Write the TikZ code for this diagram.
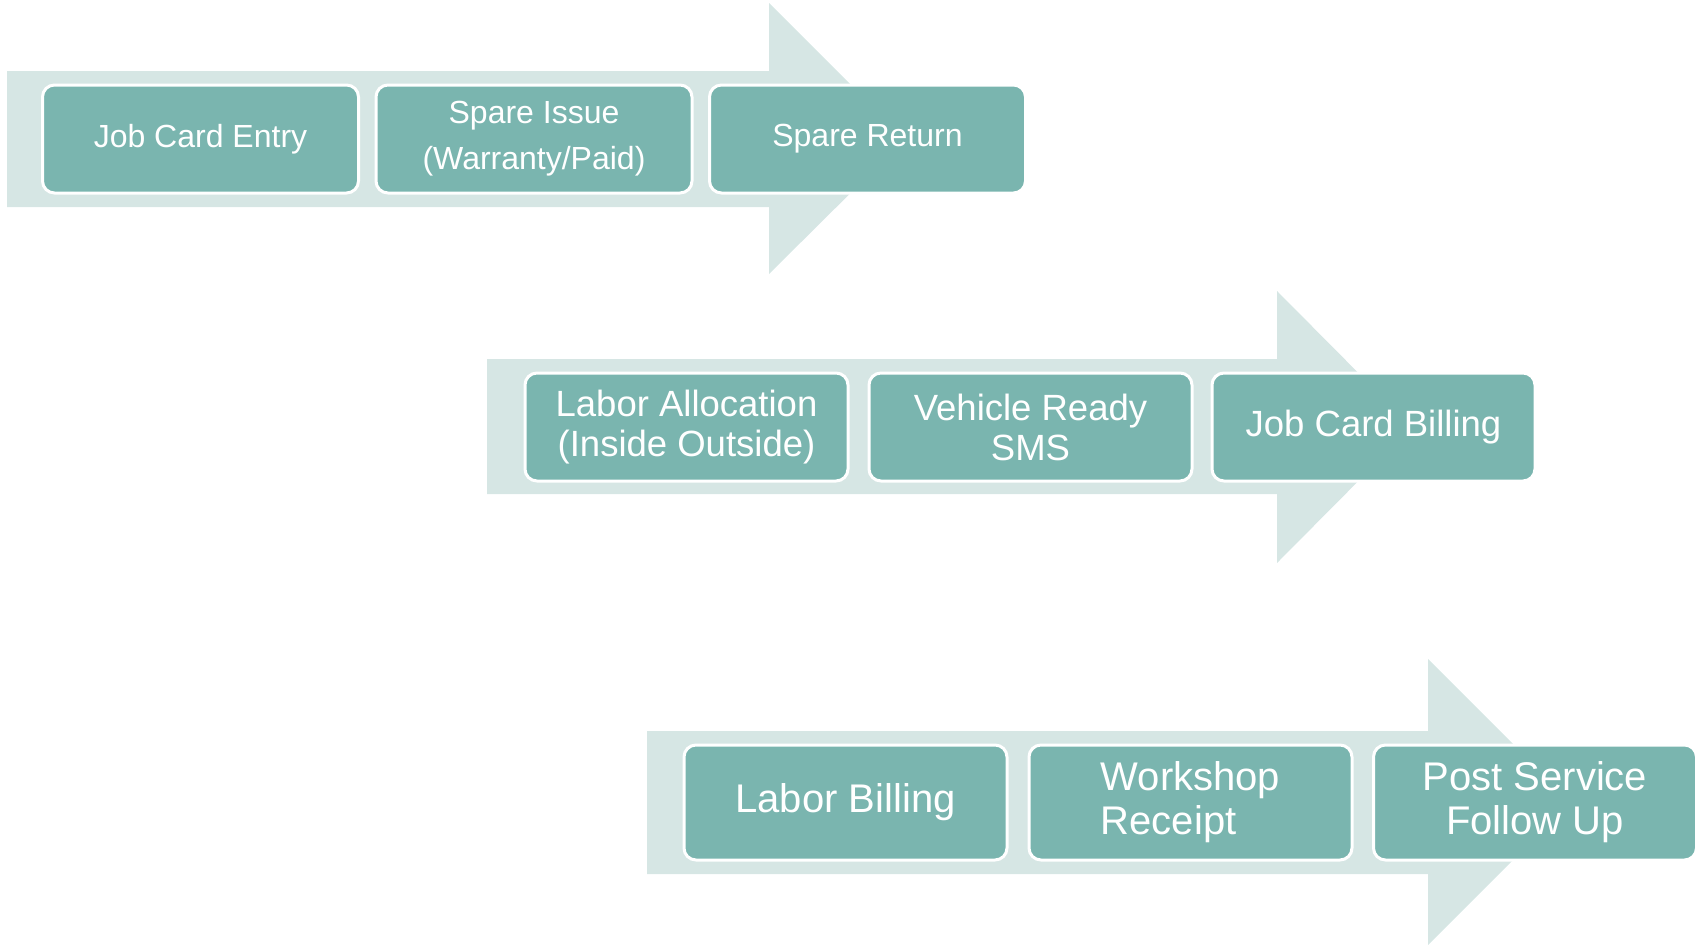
\documentclass[tikz,border=0pt]{standalone}
\usepackage{fontspec}
\setmainfont{Liberation Sans}
\usepackage{tikz}
\definecolor{stagefill}{RGB}{122,181,175}
\definecolor{flowfill}{RGB}{214,230,228}
\tikzstyle{stage}=[rectangle,rounded corners=12pt,fill=stagefill,draw=white,line width=3pt,text=white,align=center,inner sep=0pt]
\tikzstyle{flow}=[fill=flowfill]
\tikzstyle{rowone}=[font=\fontsize{32}{46}\selectfont,minimum width=316pt,minimum height=108pt]
\tikzstyle{rowtwo}=[font=\fontsize{36.5}{40}\selectfont,minimum width=323pt,minimum height=108pt]
\tikzstyle{rowthree}=[font=\fontsize{40}{44}\selectfont,minimum width=323pt,minimum height=115pt]

\begin{document}
\begin{tikzpicture}[x=1pt,y=-1pt]
    \useasboundingbox (0,0) rectangle (1703,945);
    % background arrows
    \fill[flow] (7,71) -- (769,71) -- (769,3) -- (905,139) -- (769,274) -- (769,207) -- (7,207) -- cycle;
    \fill[flow] (487,359) -- (1277,359) -- (1277,291) -- (1412,427) -- (1277,563) -- (1277,494) -- (487,494) -- cycle;
    \fill[flow] (647,731) -- (1428,731) -- (1428,659) -- (1571,802) -- (1428,945) -- (1428,874) -- (647,874) -- cycle;
    % stages
    \foreach \pos/\name/\label in {{(200.5,139)/jcentry/{Job Card Entry}}, {(534,139)/spissue/{Spare Issue\\(Warranty/Paid)}}, {(867.5,139)/spreturn/{Spare Return}}}
        \node[stage,rowone] (\name) at \pos {\label};
    \foreach \pos/\name/\label in {{(686.5,427)/laballoc/{Labor Allocation\\(Inside Outside)}}, {(1030.5,427)/vready/{Vehicle Ready\\SMS}}, {(1373.5,427)/jcbilling/{Job Card Billing}}}
        \node[stage,rowtwo] (\name) at \pos {\label};
    \foreach \pos/\name/\opt/\label in {{(845.5,802.5)/labbilling/center/{Labor Billing}}, {(1190.5,802.5)/wsreceipt/left/{Workshop\\Receipt}}, {(1535,802.5)/followup/center/{Post Service\\Follow Up}}}
        \node[stage,rowthree,align=\opt] (\name) at \pos {\label};
\end{tikzpicture}
\end{document}
